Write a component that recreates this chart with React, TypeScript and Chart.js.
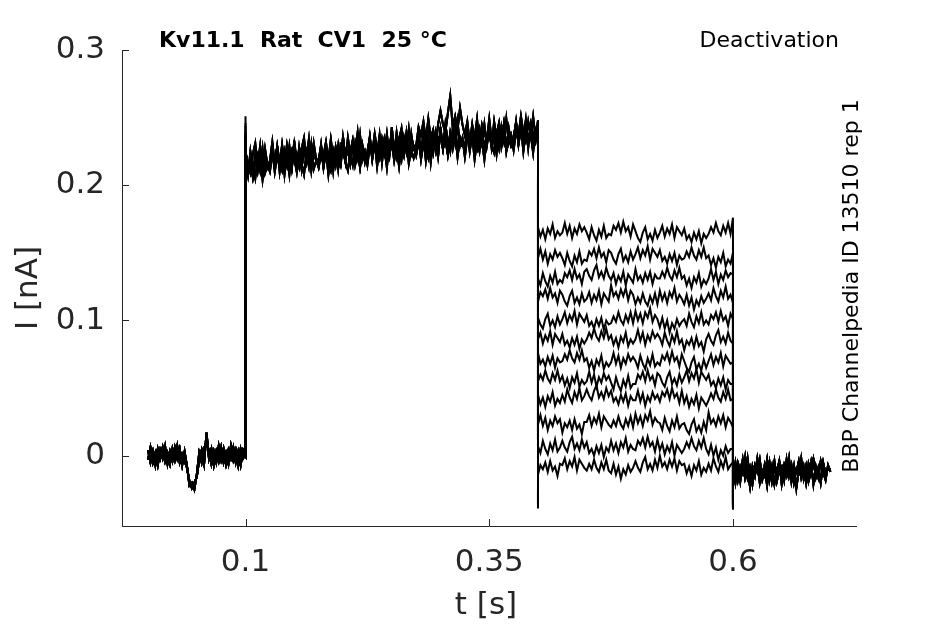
import React, { useEffect, useRef } from "react";
import Chart from "chart.js/auto";

// ---- Protocol timing (s) ----
const SAMPLE_S = 0.0025;
const T_START = 0;
const T_ON = 0.1;
const T_TEST = 0.4;
const T_OFF = 0.6;

// ---- Axis ticks ----
const X_TICKS = [0.1, 0.35, 0.6];
const X_TICK_LABELS = ["0.1", "0.35", "0.6"];
const Y_TICKS = [0, 0.1, 0.2, 0.3];
const Y_TICK_LABELS = ["0", "0.1", "0.2", "0.3"];

// ---- Current values in pA (read / estimated from the picture) ----
// holding, 0 - 0.1 s
const PRE_A = [
  4, -5, 3, -7, 5, -2, 6, -4, 2, -6,
  5, -3, 7, -5, 1, -4, -9, -19, -24, -20,
  -16, -3, 4, -6, 17, -2, 5, -7, 3, -4,
  6, -5, 2, -6, 7, -3, 4, -7, 5, -2,
  1,
];
const PRE_B = [
  -3, 6, -5, 2, -7, 4, -2, 7, -6, 3,
  -4, 6, -2, 5, -7, 3, -8, -22, -20, -25,
  -14, 2, -5, 6, 9, 4, -6, 3, -5, 7,
  -3, 5, -6, 4, -2, 6, -5, 3, -7, 4,
  0,
];

// activating step, 0.1 - 0.4 s
const STEP_A = [
  225, 211, 221, 207, 223, 215, 229, 209, 219, 213,
  218, 232, 216, 228, 210, 224, 216, 230, 220, 226,
  220, 210, 228, 216, 208, 224, 214, 230, 212, 218,
  214, 228, 222, 232, 218, 234, 220, 226, 212, 230,
  227, 217, 211, 225, 233, 215, 223, 213, 229, 217,
  225, 235, 219, 231, 223, 237, 217, 233, 227, 221,
  243, 227, 233, 223, 237, 227, 239, 221, 235, 229,
  222, 232, 224, 238, 226, 220, 234, 224, 238, 222,
  241, 227, 237, 223, 239, 231, 245, 225, 235, 229,
  227, 241, 225, 237, 219, 233, 225, 239, 229, 235,
  239, 229, 247, 235, 227, 243, 233, 249, 231, 237,
  226, 240, 234, 244, 230, 246, 232, 238, 224, 242,
  240,
];
const STEP_B = [
  217, 207, 225, 213, 205, 221, 211, 227, 209, 215,
  210, 224, 218, 228, 214, 230, 216, 222, 208, 226,
  229, 219, 213, 227, 235, 217, 225, 215, 231, 219,
  219, 229, 213, 225, 217, 231, 211, 227, 221, 215,
  236, 220, 226, 216, 230, 220, 232, 214, 228, 222,
  222, 232, 224, 238, 226, 220, 234, 224, 238, 222,
  232, 218, 228, 214, 230, 222, 236, 216, 226, 220,
  226, 240, 224, 236, 218, 232, 224, 238, 228, 234,
  237, 227, 245, 233, 225, 241, 231, 247, 229, 235,
  221, 235, 229, 239, 225, 241, 227, 233, 219, 237,
  240, 230, 224, 238, 246, 228, 236, 226, 242, 230,
  236, 246, 230, 242, 234, 248, 228, 244, 238, 232,
  243,
];
const STEP_C = [
  225, 215, 209, 223, 231, 213, 221, 211, 227, 215,
  216, 226, 210, 222, 214, 228, 208, 224, 218, 212,
  233, 217, 223, 213, 227, 217, 229, 211, 225, 219,
  213, 223, 215, 229, 217, 211, 225, 215, 229, 213,
  235, 221, 231, 217, 233, 225, 239, 219, 229, 223,
  222, 236, 220, 232, 214, 228, 220, 234, 224, 230,
  231, 221, 239, 227, 219, 235, 225, 241, 223, 229,
  229, 243, 237, 247, 233, 249, 235, 241, 227, 245,
  255, 245, 239, 253, 266, 243, 251, 241, 257, 245,
  237, 247, 231, 243, 235, 249, 229, 245, 239, 233,
  249, 233, 239, 229, 243, 233, 245, 227, 241, 235,
  235, 245, 237, 251, 239, 233, 247, 237, 251, 235,
  248,
];
const STEP_D = [
  226, 210, 216, 206, 220, 210, 222, 204, 218, 212,
  213, 223, 215, 229, 217, 211, 225, 215, 229, 213,
  230, 216, 226, 212, 228, 220, 234, 214, 224, 218,
  216, 230, 214, 226, 208, 222, 214, 228, 218, 224,
  227, 217, 235, 223, 215, 231, 221, 237, 219, 225,
  215, 229, 223, 233, 219, 235, 221, 227, 213, 231,
  236, 226, 220, 234, 242, 224, 232, 222, 238, 226,
  225, 235, 219, 231, 223, 237, 217, 233, 227, 221,
  243, 227, 233, 223, 237, 227, 239, 221, 235, 229,
  229, 239, 231, 245, 233, 227, 241, 231, 245, 229,
  241, 227, 237, 223, 239, 231, 245, 225, 235, 229,
  233, 247, 231, 243, 225, 239, 231, 245, 235, 241,
  238,
];

// deactivating tails, 0.4 - 0.6 s, one per sweep
const TAIL_0 = [
  169, 162, 167, 160, 168, 164, 171, 161, 166, 163,
  165, 172, 164, 170, 161, 168, 164, 171, 166, 169,
  165, 160, 169, 163, 159, 167, 162, 170, 161, 164,
  163, 170, 167, 172, 165, 173, 166, 169, 162, 171,
  166, 161, 158, 165, 169, 160, 164, 159, 167, 161,
  165, 170, 162, 168, 164, 171, 161, 169, 166, 163,
  168, 160, 163, 158, 165, 160, 166, 157, 164, 161,
  164, 169, 165, 172, 166, 163, 170, 165, 172, 164,
  176,
];
const TAIL_1 = [
  146, 153, 145, 151, 142, 149, 145, 152, 147, 150,
  146, 141, 150, 144, 140, 148, 143, 151, 142, 145,
  144, 151, 148, 153, 146, 154, 147, 150, 143, 152,
  150, 145, 142, 149, 153, 144, 148, 143, 151, 145,
  149, 154, 146, 152, 148, 155, 145, 153, 150, 147,
  152, 144, 147, 142, 149, 144, 150, 141, 148, 145,
  146, 151, 147, 154, 148, 145, 152, 147, 154, 146,
  148, 141, 146, 139, 147, 143, 150, 140, 145, 142,
  150,
];
const TAIL_2 = [
  131, 126, 135, 129, 125, 133, 128, 136, 127, 130,
  128, 135, 132, 137, 130, 138, 131, 134, 127, 136,
  138, 133, 130, 137, 141, 132, 136, 131, 139, 133,
  130, 135, 127, 133, 129, 136, 126, 134, 131, 128,
  138, 130, 133, 128, 135, 130, 136, 127, 134, 131,
  131, 136, 132, 139, 133, 130, 137, 132, 139, 131,
  133, 126, 131, 124, 132, 128, 135, 125, 130, 127,
  131, 138, 130, 136, 127, 134, 130, 137, 132, 135,
  134,
];
const TAIL_3 = [
  114, 121, 118, 123, 116, 124, 117, 120, 113, 122,
  119, 114, 111, 118, 122, 113, 117, 112, 120, 114,
  116, 121, 113, 119, 115, 122, 112, 120, 117, 114,
  126, 118, 121, 116, 123, 118, 124, 115, 122, 119,
  112, 117, 113, 120, 114, 111, 118, 113, 120, 112,
  122, 115, 120, 113, 121, 117, 124, 114, 119, 116,
  112, 119, 111, 117, 108, 115, 111, 118, 113, 116,
  120, 115, 124, 118, 114, 122, 117, 125, 116, 119,
  113,
];
const TAIL_4 = [
  102, 97, 94, 101, 105, 96, 100, 95, 103, 97,
  101, 106, 98, 104, 100, 107, 97, 105, 102, 99,
  104, 96, 99, 94, 101, 96, 102, 93, 100, 97,
  98, 103, 99, 106, 100, 97, 104, 99, 106, 98,
  107, 100, 105, 98, 106, 102, 109, 99, 104, 101,
  95, 102, 94, 100, 91, 98, 94, 101, 96, 99,
  101, 96, 105, 99, 95, 103, 98, 106, 97, 100,
  97, 104, 101, 106, 99, 107, 100, 103, 96, 105,
  101,
];
const TAIL_5 = [
  86, 91, 83, 89, 85, 92, 82, 90, 87, 84,
  90, 82, 85, 80, 87, 82, 88, 79, 86, 83,
  86, 91, 87, 94, 88, 85, 92, 87, 94, 86,
  89, 82, 87, 80, 88, 84, 91, 81, 86, 83,
  86, 93, 85, 91, 82, 89, 85, 92, 87, 90,
  87, 82, 91, 85, 81, 89, 84, 92, 83, 86,
  78, 85, 82, 87, 80, 88, 81, 84, 77, 86,
  90, 85, 82, 89, 93, 84, 88, 83, 91, 85,
  83,
];
const TAIL_6 = [
  76, 68, 71, 66, 73, 68, 74, 65, 72, 69,
  70, 75, 71, 78, 72, 69, 76, 71, 78, 70,
  72, 65, 70, 63, 71, 67, 74, 64, 69, 66,
  69, 76, 68, 74, 65, 72, 68, 75, 70, 73,
  70, 65, 74, 68, 64, 72, 67, 75, 66, 69,
  67, 74, 71, 76, 69, 77, 70, 73, 66, 75,
  70, 65, 62, 69, 73, 64, 68, 63, 71, 65,
  70, 75, 67, 73, 69, 76, 66, 74, 71, 68,
  69,
];
const TAIL_7 = [
  55, 60, 56, 63, 57, 54, 61, 56, 63, 55,
  59, 52, 57, 50, 58, 54, 61, 51, 56, 53,
  55, 62, 54, 60, 51, 58, 54, 61, 56, 59,
  54, 49, 58, 52, 48, 56, 51, 59, 50, 53,
  53, 60, 57, 62, 55, 63, 56, 59, 52, 61,
  59, 54, 51, 58, 62, 53, 57, 52, 60, 54,
  58, 63, 55, 61, 57, 64, 54, 62, 59, 56,
  60, 52, 55, 50, 57, 52, 58, 49, 56, 53,
  53,
];
const TAIL_8 = [
  45, 38, 43, 36, 44, 40, 47, 37, 42, 39,
  45, 40, 49, 43, 39, 47, 42, 50, 41, 44,
  49, 44, 41, 48, 52, 43, 47, 42, 50, 44,
  48, 40, 43, 38, 45, 40, 46, 37, 44, 41,
  41, 48, 40, 46, 37, 44, 40, 47, 42, 45,
  40, 47, 44, 49, 42, 50, 43, 46, 39, 48,
  39, 44, 36, 42, 38, 45, 35, 43, 40, 37,
  41, 46, 42, 49, 43, 40, 47, 42, 49, 41,
  42,
];
const TAIL_9 = [
  23, 30, 22, 28, 19, 26, 22, 29, 24, 27,
  17, 24, 21, 26, 19, 27, 20, 23, 16, 25,
  25, 30, 22, 28, 24, 31, 21, 29, 26, 23,
  21, 26, 22, 29, 23, 20, 27, 22, 29, 21,
  31, 24, 29, 22, 30, 26, 33, 23, 28, 25,
  24, 19, 28, 22, 18, 26, 21, 29, 20, 23,
  24, 19, 16, 23, 27, 18, 22, 17, 25, 19,
  32, 24, 27, 22, 29, 24, 30, 21, 28, 25,
  21,
];
const TAIL_10 = [
  7, 2, 11, 5, 1, 9, 4, 12, 3, 6,
  11, 6, 3, 10, 14, 5, 9, 4, 12, 6,
  10, 2, 5, 0, 7, 2, 8, -1, 6, 3,
  11, 4, 9, 2, 10, 6, 13, 3, 8, 5,
  4, 11, 8, 13, 6, 14, 7, 10, 3, 12,
  4, 9, 1, 7, 3, 10, 0, 8, 5, 2,
  5, 10, 6, 13, 7, 4, 11, 6, 13, 5,
  1, 8, 0, 6, -3, 4, 0, 7, 2, 5,
  5,
];
const TAIL_11 = [
  -14, -7, -10, -5, -12, -4, -11, -8, -15, -6,
  -7, -2, -10, -4, -8, -1, -11, -3, -6, -9,
  -11, -6, -10, -3, -9, -12, -5, -10, -3, -11,
  -13, -6, -14, -8, -17, -10, -14, -7, -12, -9,
  -4, -9, -12, -5, -1, -10, -6, -11, -3, -9,
  0, -8, -5, -10, -3, -8, -2, -11, -4, -7,
  -6, -13, -8, -15, -7, -11, -4, -14, -9, -12,
  -6, -11, -2, -8, -12, -4, -9, -1, -10, -7,
  -5,
];

// back to holding, 0.6 - 0.7 s
const POST_A = [
  -4, -16, -7, -19, -5, -14, -2, -17, -9, -13,
  -6, -20, -11, -15, -3, -18, -8, -21, -10, -5,
  -17, -7, -14, -2, -19, -9, -12, -4, -16, -8,
  -20, -6, -13, -3, -15, -11, -18, -5, -14, -9,
  -10,
];
const POST_B = [
  -15, -5, -18, -8, -13, -1, -16, -9, -21, -7,
  -12, -3, -17, -10, -22, -6, -14, -4, -19, -11,
  -8, -18, -3, -15, -7, -20, -10, -13, -2, -17,
  -9, -14, -5, -21, -8, -16, -4, -12, -18, -7,
  -12,
];
const POST_C = [
  -9, -20, -6, -14, -3, -17, -11, -23, -8, -15,
  -2, -13, -18, -7, -16, -5, -19, -9, -12, -4,
  -21, -10, -15, -6, -18, -8, -24, -11, -5, -14,
  -7, -19, -12, -3, -16, -9, -20, -6, -13, -10,
  -11,
];

// capacitive transients at each voltage step (pA), one per sweep
const ON_SPIKE = [251, 238, 234, 244, 229, 236, 240, 231, 246, 233, 237, 228];
const TEST_SPIKE = [-38, -33, -36, -30, -39, -34, -31, -37, -35, -32, -38, -36];
const OFF_SPIKE = [-36, -39, -33, -38, -35, -40, -34, -37, -36, -39, -33, -38];

const PRE_SET = [PRE_A, PRE_B];
const STEP_SET = [STEP_A, STEP_B, STEP_C, STEP_D];
const TAIL_SET = [TAIL_0, TAIL_1, TAIL_2, TAIL_3, TAIL_4, TAIL_5, TAIL_6, TAIL_7, TAIL_8, TAIL_9, TAIL_10, TAIL_11];
const POST_SET = [POST_A, POST_B, POST_C];

const AXIS_COLOR = "#262626";
const FONT = "DejaVu Sans";

function buildSweep(s: number) {
  const pts: { x: number; y: number }[] = [];
  const seg = (t0: number, vals: number[]) =>
    vals.forEach((v, i) => pts.push({ x: t0 + i * SAMPLE_S, y: v / 1000 }));
  seg(T_START, PRE_SET[s % 2]);
  pts.push({ x: T_ON, y: ON_SPIKE[s] / 1000 });
  seg(T_ON, STEP_SET[s % 4]);
  pts.push({ x: T_TEST, y: TEST_SPIKE[s] / 1000 });
  seg(T_TEST, TAIL_SET[s]);
  pts.push({ x: T_OFF, y: OFF_SPIKE[s] / 1000 });
  seg(T_OFF, POST_SET[s % 3]);
  return pts;
}

const overlay = {
  id: "overlay",
  afterDraw(chart: any) {
    const ctx = chart.ctx;
    const area = chart.chartArea;
    const xs = chart.scales.x;
    const ys = chart.scales.y;
    ctx.save();
    ctx.strokeStyle = AXIS_COLOR;
    ctx.lineWidth = 1;
    X_TICKS.forEach((v) => {
      const px = Math.round(xs.getPixelForValue(v)) + 0.5;
      ctx.beginPath();
      ctx.moveTo(px, area.bottom);
      ctx.lineTo(px, area.bottom - 7);
      ctx.stroke();
    });
    Y_TICKS.forEach((v) => {
      const py = Math.round(ys.getPixelForValue(v)) + 0.5;
      ctx.beginPath();
      ctx.moveTo(area.left, py);
      ctx.lineTo(area.left + 7, py);
      ctx.stroke();
    });

    // axis labels
    ctx.fillStyle = AXIS_COLOR;
    ctx.font = `31px "${FONT}"`;
    ctx.textAlign = "center";
    ctx.textBaseline = "alphabetic";
    ctx.fillText("t [s]", 486, 614);
    ctx.save();
    ctx.translate(37, 288);
    ctx.rotate(-Math.PI / 2);
    ctx.fillText("I [nA]", 0, 0);
    ctx.restore();

    // annotations
    ctx.fillStyle = "#000";
    ctx.font = `bold 22px "${FONT}"`;
    ctx.textAlign = "left";
    ctx.fillText("Kv11.1  Rat  CV1  25 °C", 159, 47);
    ctx.font = `22px "${FONT}"`;
    ctx.textAlign = "right";
    ctx.fillText("Deactivation", 839, 47);
    ctx.save();
    ctx.translate(858, 286);
    ctx.rotate(-Math.PI / 2);
    ctx.textAlign = "center";
    ctx.font = `22px "${FONT}"`;
    ctx.fillText("BBP Channelpedia ID 13510 rep 1", 0, 0);
    ctx.restore();
    ctx.restore();
  },
};

export default function App() {
  const ref = useRef<HTMLCanvasElement>(null);
  useEffect(() => {
    if (!ref.current) return;
    const datasets = TAIL_SET.map((_, s) => ({
      data: buildSweep(s),
      borderColor: "#000",
      borderWidth: 2,
      pointRadius: 0,
      tension: 0,
      fill: false,
    }));
    const chart = new Chart(ref.current, {
      type: "line",
      data: { datasets },
      options: {
        responsive: false,
        animation: false,
        parsing: false,
        devicePixelRatio: 1,
        layout: { padding: { left: 0, top: 50, right: 89, bottom: 0 } },
        plugins: {
          legend: { display: false },
          tooltip: { enabled: false },
          title: { display: false },
        },
        scales: {
          x: {
            type: "linear",
            min: -0.0267,
            max: 0.7262,
            afterFit: (s: any) => {
              s.height = 98;
            },
            afterBuildTicks: (s: any) => {
              s.ticks = X_TICKS.map((v) => ({ value: v }));
            },
            grid: { display: false, drawTicks: false },
            border: { display: true, color: AXIS_COLOR, width: 1 },
            ticks: {
              autoSkip: false,
              maxRotation: 0,
              padding: 18,
              color: AXIS_COLOR,
              font: { family: FONT, size: 31 },
              callback: (v: any) => X_TICK_LABELS[X_TICKS.indexOf(Number(v))] ?? "",
            },
          },
          y: {
            type: "linear",
            min: -0.052,
            max: 0.3,
            afterFit: (s: any) => {
              s.width = 122;
            },
            afterBuildTicks: (s: any) => {
              s.ticks = Y_TICKS.map((v) => ({ value: v }));
            },
            grid: { display: false, drawTicks: false },
            border: { display: true, color: AXIS_COLOR, width: 1 },
            ticks: {
              autoSkip: false,
              padding: 17,
              color: AXIS_COLOR,
              font: { family: FONT, size: 31 },
              callback: (v: any) => Y_TICK_LABELS[Y_TICKS.indexOf(Number(v))] ?? "",
            },
          },
        },
      },
      plugins: [overlay],
    } as any);
    return () => chart.destroy();
  }, []);
  return (
    <div style={{ position: "absolute", left: 0, top: 0, width: 945, height: 624, background: "#fff" }}>
      <canvas ref={ref} width={945} height={624} style={{ display: "block", width: 945, height: 624 }} />
    </div>
  );
}
